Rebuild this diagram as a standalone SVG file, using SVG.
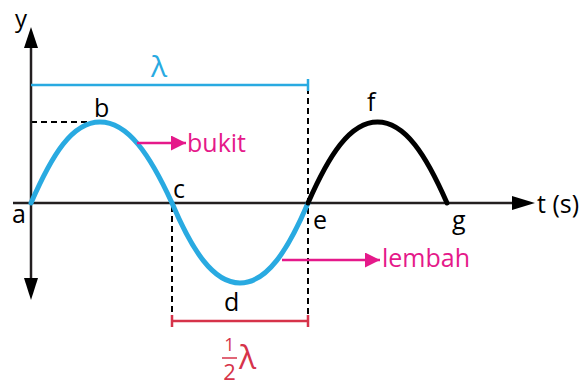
<svg xmlns="http://www.w3.org/2000/svg" width="585" height="386" viewBox="0 0 585 386">
<style>
text{font-family:"Open Sans","Noto Sans","DejaVu Sans",sans-serif;font-size:25px;fill:#000}
.blue{fill:#29aae1}
.mag{fill:#e5198a}
.red{fill:#d6334a}
.axis{stroke:#231f20;stroke-width:2.5;fill:none}
.dash{stroke:#000;stroke-width:2;stroke-dasharray:6 4;fill:none}
.wave{fill:none;stroke-width:5;stroke-linecap:round}
</style>
<defs>
<marker id="pm" viewBox="0 0 10 10" refX="10" refY="5" markerWidth="22" markerHeight="15" markerUnits="userSpaceOnUse" orient="auto"><path d="M0,0L10,5L0,10z" fill="#e5198a"/></marker>
</defs>
<g id="guides">
<path class="dash" d="M31,122H97"/>
<path class="dash" d="M308,88V318"/>
<path class="dash" d="M172,206V318"/>
</g>
<g id="axes">
<path class="axis" d="M31,46V280"/>
<path d="M24,48L31,27L38,48z" fill="#000"/>
<path d="M24,278L31,300L38,278z" fill="#000"/>
<path class="axis" d="M13,203H514"/>
<path d="M512,196L535,203L512,210z" fill="#000"/>
</g>
<g id="waves">
<path class="wave" stroke="#29aae1" d="M31,203C52,155 72,122 100,122C128,122 150,155 172,203C192,250 213,283 240,283C267,283 288,250 308,203"/>
<path class="wave" stroke="#000" d="M308,203C329,155 350,122 377.5,122C405,122 426,155 447,203"/>
</g>
<g id="lambda">
<path d="M31,85H308M308,79V91" stroke="#29aae1" stroke-width="2.5" fill="none"/>
<text class="blue" x="151" y="77" style="font-size:30px">λ</text>
</g>
<g id="halflambda">
<path d="M172,321H308M172,315V327M308,315V327" stroke="#d6334a" stroke-width="2.5" fill="none"/>
<text class="red" text-anchor="middle"><tspan x="229.5" y="351" style="font-size:18px">1</tspan><tspan x="229.5" y="380" style="font-size:22px">2</tspan></text>
<path d="M222,358H237" stroke="#d6334a" stroke-width="1.5"/>
<text class="red" x="239" y="369" style="font-size:32px">λ</text>
</g>
<g id="connectors">
<path d="M137,143H186" stroke="#e5198a" stroke-width="2.5" fill="none" marker-end="url(#pm)"/>
<path d="M282,260H380" stroke="#e5198a" stroke-width="2.5" fill="none" marker-end="url(#pm)"/>
</g>
<g id="labels">
<text x="15" y="27" style="font-size:24px">y</text>
<text x="12" y="223">a</text>
<text x="94" y="117">b</text>
<text x="173" y="198">c</text>
<text x="224" y="311">d</text>
<text x="313" y="229">e</text>
<text x="367" y="111">f</text>
<text x="452" y="229">g</text>
<text x="537" y="213">t (s)</text>
<text class="mag" x="187" y="152">bukit</text>
<text class="mag" x="382" y="267">lembah</text>
</g>
</svg>
